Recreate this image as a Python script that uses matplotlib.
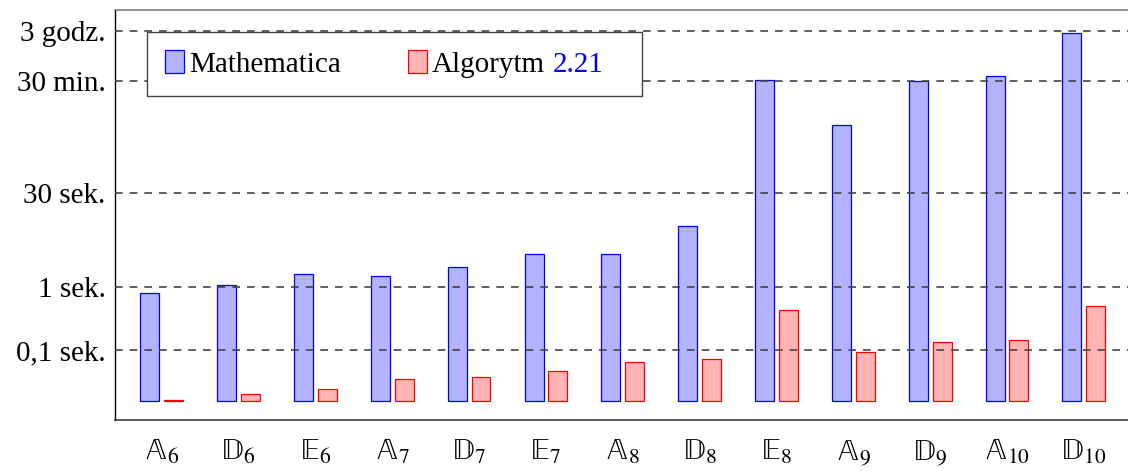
import matplotlib
matplotlib.use("Agg")
import matplotlib.pyplot as plt
import numpy as np

plt.rcParams['font.family'] = ['Liberation Serif', 'DejaVu Serif']
plt.rcParams['mathtext.fontset'] = 'stix'

# Data (seconds)
groups = ["$\\mathrm{𝔸}_{6}$", "$\\mathrm{𝔻}_{6}$", "$\\mathrm{𝔼}_{6}$",
          "$\\mathrm{𝔸}_{7}$", "$\\mathrm{𝔻}_{7}$", "$\\mathrm{𝔼}_{7}$",
          "$\\mathrm{𝔸}_{8}$", "$\\mathrm{𝔻}_{8}$", "$\\mathrm{𝔼}_{8}$",
          "$\\mathrm{𝔸}_{9}$", "$\\mathrm{𝔻}_{9}$", "$\\mathrm{𝔸}_{10}$",
          "$\\mathrm{𝔻}_{10}$"]
mathematica = [0.79, 1.075, 1.57, 1.48, 2.02, 3.32, 3.25, 9.2, 1823, 358, 1758, 2108, 10180]
algorytm = [0.016, 0.0204, 0.0239, 0.0344, 0.0371, 0.0471, 0.064, 0.0729, 0.433, 0.093, 0.132, 0.142, 0.49]
ytick_vals = [0.1, 1, 30, 1800, 10800]
ytick_labels = ["0,1 sek.", "1 sek.", "30 sek.", "30 min.", "3 godz."]

base = 0.0156
width = 0.247
off = 0.155
fs = 21

fig = plt.figure(figsize=(11.28, 4.71), dpi=100)
ax = fig.add_axes([115.3 / 1128, 1 - 419.7 / 471, 1 - 115.3 / 1128, (419.7 - 10) / 471])

x = np.arange(len(groups))
h1 = [v - base for v in mathematica]
h2 = [v - base for v in algorytm]
ax.bar(x - off, h1, width, bottom=base, color='#b3b3ff', edgecolor='blue',
       linewidth=0.9, label='Mathematica', zorder=2)
ax.bar(x + off, h2, width, bottom=base, color='#ffb3b3', edgecolor='red',
       linewidth=0.9, label='Algorytm 2.21\u2002\u2009', zorder=2)

ax.set_yscale('log')
ax.set_ylim(0.00792, 23500)
ax.set_xlim(-0.604, 12.575)
ax.set_yticks(ytick_vals)
ax.set_yticklabels(ytick_labels, fontsize=fs)
ax.yaxis.set_minor_locator(matplotlib.ticker.NullLocator())
ax.set_xticks(x)
ax.set_xticklabels(groups, fontsize=fs + 1)
ax.tick_params(axis='y', length=0, pad=7)
ax.tick_params(axis='x', length=0, pad=13)

for v in ytick_vals:
    ax.axhline(v, color='#444444', lw=1.2, dashes=(4.6, 4.2), zorder=3)

ax.spines['right'].set_visible(False)
ax.spines['top'].set_color('#808080')
ax.spines['top'].set_linewidth(1.2)
ax.spines['bottom'].set_color('#404040')
ax.spines['bottom'].set_linewidth(1.2)
ax.spines['left'].set_color('black')
ax.spines['left'].set_linewidth(1.0)

leg = ax.legend(ncol=2, loc='upper left',
                bbox_to_anchor=((146.7 - 115.3) / (1128 - 115.3), (419.7 - 32.3) / (419.7 - 10)),
                fontsize=fs, frameon=True, fancybox=False, framealpha=1,
                edgecolor='#444444', borderpad=0.62, handlelength=0.66, handleheight=0.84,
                handletextpad=0.17, columnspacing=2.3, borderaxespad=0)
leg.get_frame().set_linewidth(1.0)
leg.set_zorder(5)

# colour the reference number in the second legend entry
fig.canvas.draw()
renderer = fig.canvas.get_renderer()
t = leg.get_texts()[1]
px, py = t.get_transform().transform(t.get_position())
tmp = fig.text(0, 0, "Algorytm 2.21", fontsize=fs)
w_full = tmp.get_window_extent(renderer).width
tmp.set_text("2.21")
w_num = tmp.get_window_extent(renderer).width
tmp.remove()
t.set_visible(False)
inv = fig.transFigure.inverted()
fx, fy = inv.transform((px, py))
fx2, _ = inv.transform((px + w_full - w_num, py))
fig.text(fx, fy, "Algorytm", fontsize=fs, color='black', ha='left', va='baseline', zorder=6)
fig.text(fx2, fy, "2.21", fontsize=fs, color='blue', ha='left', va='baseline', zorder=6)

fig.savefig("out.png", dpi=100)
